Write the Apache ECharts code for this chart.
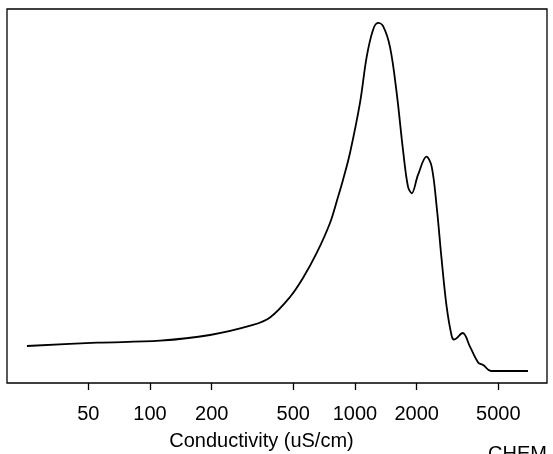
<!DOCTYPE html>
<html>
<head>
<meta charset="utf-8">
<script src="https://cdn.jsdelivr.net/npm/echarts@6/dist/echarts.min.js"></script>
<style>html,body{margin:0;padding:0;background:#fff;}#c{width:553px;height:454px;}</style>
</head>
<body>
<div id="c"></div>
<script>
// Conductivity (uS/cm) sample points of the density curve
const conductivity = [25.1, 55.1, 111.9, 196.2, 318.0, 384.9, 481.9, 557.6, 650.5, 755.2, 826.3, 873.9, 945.4, 1057.8, 1140.4, 1224.2, 1294.9, 1369.7, 1481.5, 1597.4, 1714.8, 1813.9, 1891.0, 2029.6, 2232.6, 2366.6, 2503.3, 2647.9, 2801.0, 2962.8, 3040, 3353, 3639, 3995, 4225, 4606, 6981];
// Relative density (peak = 100)
const density = [7.18, 8.13, 8.71, 10.34, 13.22, 15.37, 21.26, 26.72, 33.91, 42.53, 50.0, 54.89, 62.64, 77.01, 90.23, 97.99, 100, 99.14, 93.10, 79.89, 63.51, 52.96, 51.06, 56.32, 61.58, 58.71, 47.21, 31.90, 18.39, 10.06, 9.05, 10.92, 6.98, 2.39, 1.72, 0, 0];
const tickValues = [50, 100, 200, 500, 1000, 2000, 5000];
const xRange = [20.06, 8645];
const yRange = [-3.45, 104.0];
const xTitle = 'Conductivity (uS/cm)';
const cornerText = 'CHEM';

const font = "'Liberation Sans', Arial, Helvetica, sans-serif";
const chart = echarts.init(document.getElementById('c'), null, {renderer: 'canvas'});
const pts = conductivity.map((c, i) => [Math.log10(c), density[i]]);
chart.setOption({
  animation: false,
  backgroundColor: '#fff',
  grid: {left: 7, right: 6, top: 9, bottom: 71, containLabel: false, outerBoundsMode: 'none', show: true, borderColor: '#000', borderWidth: 1.3, backgroundColor: 'transparent'},
  xAxis: {
    type: 'value',
    min: Math.log10(xRange[0]),
    max: Math.log10(xRange[1]),
    axisLine: {show: false, onZero: false},
    splitLine: {show: false},
    axisTick: {show: true, inside: false, length: 7, lineStyle: {color: '#000', width: 1.3}, customValues: tickValues.map(v => Math.log10(v))},
    axisLabel: {show: true, margin: 21, color: '#000', fontFamily: font, fontSize: 20,
      customValues: tickValues.map(v => Math.log10(v)),
      formatter: v => String(Math.round(Math.pow(10, v)))},
    name: xTitle,
    nameLocation: 'middle',
    nameGap: 48,
    nameTextStyle: {color: '#000', fontFamily: font, fontSize: 20, padding: [0, 31, 0, 0]}
  },
  yAxis: {
    type: 'value', min: yRange[0], max: yRange[1], show: false
  },
  series: [{
    type: 'line',
    data: pts,
    showSymbol: false,
    smooth: 0.35,
    lineStyle: {color: '#000', width: 1.8},
    silent: true
  }],
  graphic: [{
    type: 'text', left: 488, top: 444,
    style: {text: cornerText, fill: '#000', font: "20px " + font}
  }]
});
</script>
</body>
</html>
